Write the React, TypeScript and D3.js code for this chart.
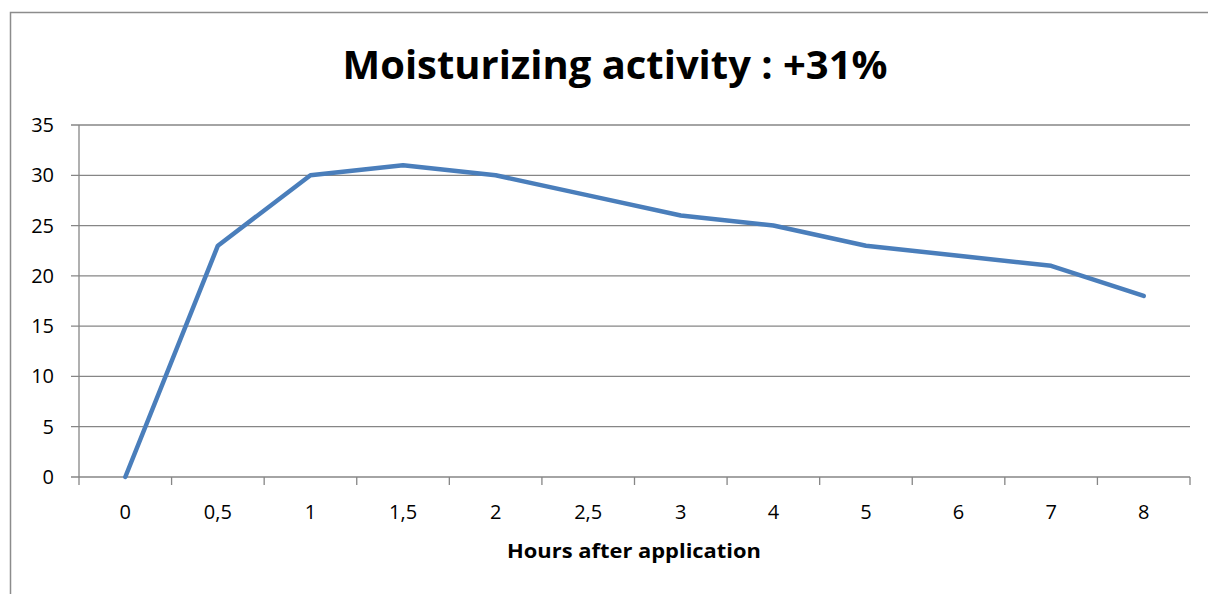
import React from "react";
import * as d3 from "d3";

const categories = ["0", "0,5", "1", "1,5", "2", "2,5", "3", "4", "5", "6", "7", "8"];
const values = [0, 23, 30, 31, 30, 28, 26, 25, 23, 22, 21, 18];
const yTicks = [0, 5, 10, 15, 20, 25, 30, 35];
const title = "Moisturizing activity : +31%";
const xTitle = "Hours after application";

export default function App() {
  const W = 1208, H = 594;
  const left = 79, right = 1190, top = 125, bottom = 477;
  const x = d3.scaleBand<string>().domain(categories).range([left, right]).padding(0);
  const y = d3.scaleLinear().domain([0, 35]).range([bottom, top]);
  const line = d3.line<number>()
    .x((_, i) => (x(categories[i]) as number) + x.bandwidth() / 2)
    .y((d) => y(d));
  const font = "'Open Sans', 'Noto Sans', sans-serif";
  const grid = "#868686";
  return (
    <svg width={W} height={H} style={{ position: "absolute", left: 0, top: 0, background: "#fff" }} fontFamily={font}>
      <rect x={10.5} y={12.5} width={1220} height={620} fill="none" stroke="#8c8c8c" strokeWidth={1.5} />
      {yTicks.map((t) => (
        <g key={t}>
          <line x1={left - 8} x2={right} y1={y(t)} y2={y(t)} stroke={grid} strokeWidth={1.3} />
          <text x={54} y={y(t) + 7} textAnchor="end" fontSize={20} fill="#000">{t}</text>
        </g>
      ))}
      <line x1={left} x2={left} y1={top} y2={bottom} stroke={grid} strokeWidth={1.3} />
      {categories.map((c, i) => (
        <line key={"t" + i} x1={x(c) as number} x2={x(c) as number} y1={bottom} y2={bottom + 8} stroke={grid} strokeWidth={1.3} />
      ))}
      <line x1={right} x2={right} y1={bottom} y2={bottom + 8} stroke={grid} strokeWidth={1.3} />
      {categories.map((c) => (
        <text key={c} x={(x(c) as number) + x.bandwidth() / 2} y={519} textAnchor="middle" fontSize={20} fill="#000">{c}</text>
      ))}
      <path d={line(values) || ""} fill="none" stroke="#4a7ebb" strokeWidth={4.5} strokeLinejoin="round" strokeLinecap="round" />
      <text x={615} y={79} textAnchor="middle" fontSize={40} fontWeight="bold" fill="#000" textLength={545} lengthAdjust="spacingAndGlyphs">{title}</text>
      <text x={634} y={558} textAnchor="middle" fontSize={20} fontWeight="bold" fill="#000" textLength={254} lengthAdjust="spacingAndGlyphs">{xTitle}</text>
    </svg>
  );
}
